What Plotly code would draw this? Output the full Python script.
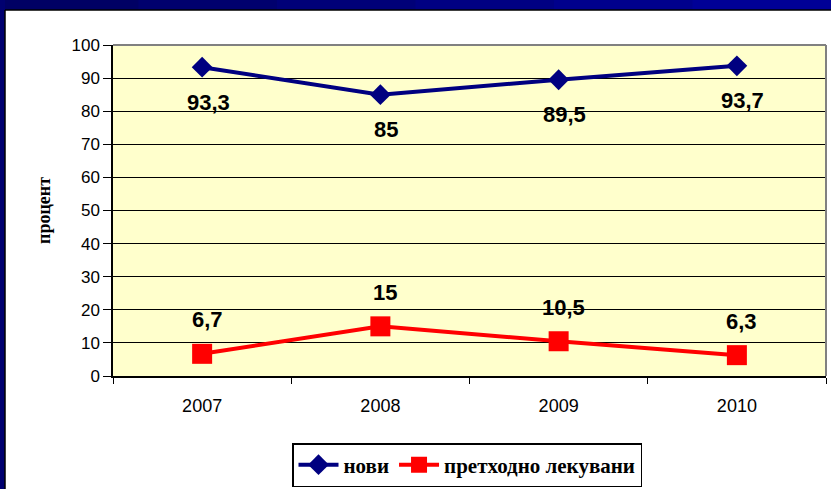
import plotly.graph_objects as go

years = ['2007', '2008', '2009', '2010']
novi = [93.3, 85, 89.5, 93.7]
lekuvani = [6.7, 15, 10.5, 6.3]

W, H = 831, 489
L, R, T, B = 113, 5, 45, 113


def px(x):
    return (x - L) / (W - L - R)


def py(y):
    return (H - B - y) / (H - T - B)


def fmt(v):
    return str(v).replace('.', ',')


fig = go.Figure()

fig.add_trace(go.Scatter(
    x=years, y=novi, name='нови', mode='lines+markers',
    line=dict(color='#000080', width=4),
    marker=dict(symbol='diamond', size=16, color='#000080'),
))

fig.add_trace(go.Scatter(
    x=years, y=lekuvani, name='претходно лекувани', mode='lines+markers',
    line=dict(color='#FF0000', width=4),
    marker=dict(symbol='square', size=20, color='#FF0000'),
))

# data labels (category axis -> use category index)
annotations = []
for i, v in enumerate(novi):
    annotations.append(dict(x=i, y=v, xref='x', yref='y', text='<b>' + fmt(v) + '</b>',
                            showarrow=False, yshift=-35, xshift=6,
                            font=dict(family='Arial', size=22, color='black')))
for i, v in enumerate(lekuvani):
    annotations.append(dict(x=i, y=v, xref='x', yref='y', text='<b>' + fmt(v) + '</b>',
                            showarrow=False, yshift=34, xshift=5,
                            font=dict(family='Arial', size=22, color='black')))

# dark blue frame, slight left-to-right gradient
shapes = []
shades = ['#000064', '#00006e', '#000078', '#000082', '#00008c', '#000096']
seg = W / len(shades)
for k, c in enumerate(shades):
    shapes.append(dict(type='rect', xref='paper', yref='paper', x0=px(k * seg), x1=px((k + 1) * seg + 1),
                       y0=py(0), y1=py(10), fillcolor=c, line=dict(width=0), layer='above'))
shapes += [
    dict(type='rect', xref='paper', yref='paper', x0=px(0), x1=px(5), y0=py(0), y1=py(H),
         fillcolor='#000070', line=dict(width=0), layer='above'),
    dict(type='line', xref='paper', yref='paper', x0=px(5), x1=px(W), y0=py(10), y1=py(10),
         line=dict(color='black', width=1.5), layer='above'),
    dict(type='line', xref='paper', yref='paper', x0=px(5), x1=px(5), y0=py(10), y1=py(H),
         line=dict(color='black', width=1.5), layer='above'),
    # gray plot border top/right
    dict(type='line', xref='paper', yref='paper', x0=0, x1=1, y0=1, y1=1,
         line=dict(color='#808080', width=2), layer='above'),
    dict(type='line', xref='paper', yref='paper', x0=1, x1=1, y0=0, y1=1,
         line=dict(color='#808080', width=2), layer='above'),
]

fig.update_layout(
    width=W, height=H,
    margin=dict(l=L, r=R, t=T, b=B, autoexpand=False),
    paper_bgcolor='white',
    plot_bgcolor='#FFFFCC',
    showlegend=True,
    legend=dict(
        orientation='h', x=px(467), xanchor='center', y=py(487), yanchor='bottom',
        bordercolor='black', borderwidth=1.5, bgcolor='white', itemwidth=40,
        font=dict(family='Liberation Serif, Times New Roman', size=21, color='black', weight='bold'),
    ),
    annotations=annotations,
    shapes=shapes,
    xaxis=dict(
        type='category', tickson='boundaries', ticks='outside', ticklen=6, tickcolor='black',
        showline=True, linecolor='black', linewidth=1.5, showgrid=False,
        tickfont=dict(family='Arial, Liberation Sans', size=18, color='black'),
        ticklabelstandoff=13, range=[-0.5, 3.5],
    ),
    yaxis=dict(
        range=[0, 100], dtick=10, ticks='outside', ticklen=8, tickcolor='black',
        showline=True, linecolor='black', linewidth=1.5,
        showgrid=True, gridcolor='black', gridwidth=1.4, zeroline=False,
        tickfont=dict(family='Arial, Liberation Sans', size=17, color='black'),
        title=dict(text='<b>процент</b>', standoff=16,
                   font=dict(family='Liberation Serif, Times New Roman', size=18, color='black')),
        automargin=False,
    ),
)

fig.write_html('out.html', config={'displayModeBar': False},
               post_script="document.body.style.margin='0';")
